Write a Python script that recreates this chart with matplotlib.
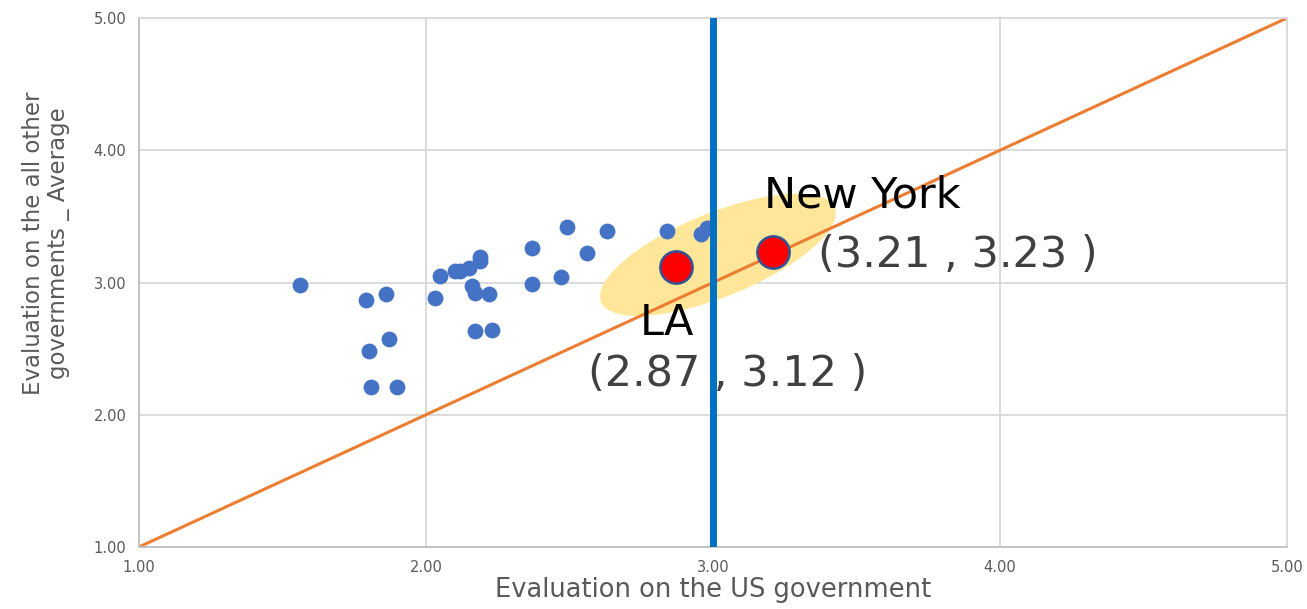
import numpy as np
import matplotlib.pyplot as plt
from matplotlib.patches import Ellipse
from matplotlib.transforms import Affine2D

# evaluation of the US government (x) vs. average of all other governments (y)
us_eval = [1.56, 1.79, 1.86, 1.80, 1.87, 1.81, 1.90, 2.03, 2.05, 2.10,
           2.12, 2.15, 2.19, 2.19, 2.16, 2.17, 2.22, 2.17, 2.23, 2.37,
           2.37, 2.47, 2.49, 2.56, 2.63, 2.84, 2.96, 2.98]
other_eval = [2.98, 2.87, 2.91, 2.48, 2.57, 2.21, 2.21, 2.88, 3.05, 3.09,
              3.09, 3.11, 3.19, 3.16, 2.97, 2.92, 2.91, 2.63, 2.64, 2.99,
              3.26, 3.04, 3.42, 3.22, 3.39, 3.39, 3.37, 3.41]

cities = ['New York', 'LA']
city_x = [3.21, 2.87]
city_y = [3.23, 3.12]

ticks = [1.0, 2.0, 3.0, 4.0, 5.0]

fig = plt.figure(figsize=(13.07, 6.09), dpi=100)
ax = fig.add_axes([0.1063, 0.1018, 0.8784, 0.8686])
ax.set_xlim(1, 5)
ax.set_ylim(1, 5)

grid_c = '#D9D9D9'
ax.set_xticks(ticks)
ax.set_yticks(ticks)
ax.set_xticklabels([f'{t:.2f}' for t in ticks])
ax.set_yticklabels([f'{t:.2f}' for t in ticks])
ax.grid(True, color=grid_c, lw=1.3, zorder=0)
ax.set_axisbelow(True)
for s in ax.spines.values():
    s.set_color(grid_c)
    s.set_linewidth(1.3)
ax.spines['left'].set_color('#BFBFBF')
ax.spines['bottom'].set_color('#BFBFBF')
ax.tick_params(length=0, labelsize=10.5, labelcolor='#595959', pad=9)

# highlight ellipse, sized in pixels and mapped to data units
px_x = 0.8784 * 1307 / 4
px_y = 0.8686 * 609 / 4
ell = Ellipse((0, 0), 252, 84, angle=22, facecolor='#FFE699', edgecolor='none', zorder=1)
ell.set_transform(Affine2D().scale(1 / px_x, 1 / px_y).translate(3.017, 3.21) + ax.transData)
ax.add_patch(ell)

# 45 degree reference line and the x = 3 divider
ax.plot([1, 5], [1, 5], color='#ED7D31', lw=2.2, zorder=2)
ax.scatter(us_eval, other_eval, s=130, color='#4472C4', zorder=3, linewidths=0)
ax.axvline(3.0, color='#0070C0', lw=5, zorder=4)
ax.scatter(city_x, city_y, s=540, color='#FF0000', edgecolors='#2F5597', linewidths=1.8, zorder=5)

# city labels
ax.annotate(cities[0], (city_x[0], city_y[0]), xytext=(-7, 32), textcoords='offset points',
            fontsize=31, color='black', ha='left', va='baseline', zorder=6)
ax.annotate(f'({city_x[0]:.2f} , {city_y[0]:.2f} )', (city_x[0], city_y[0]), xytext=(32, -11),
            textcoords='offset points', fontsize=31, color='#404040', ha='left', va='baseline', zorder=6)
ax.annotate(cities[1], (city_x[1], city_y[1]), xytext=(-26, -49), textcoords='offset points',
            fontsize=31, color='black', ha='left', va='baseline', zorder=6)
ax.annotate(f'({city_x[1]:.2f} , {city_y[1]:.2f} )', (city_x[1], city_y[1]), xytext=(-63, -86),
            textcoords='offset points', fontsize=31, color='#404040', ha='left', va='baseline', zorder=6)

ax.set_xlabel('Evaluation on the US government', fontsize=18.5, color='#595959', labelpad=2)
ax.set_ylabel('Evaluation on the all other\ngovernments _ Average', fontsize=16.5, color='#595959',
              linespacing=1.1)
ax.yaxis.set_label_coords(-0.060, 0.575)

fig.savefig('out.png', dpi=100)
